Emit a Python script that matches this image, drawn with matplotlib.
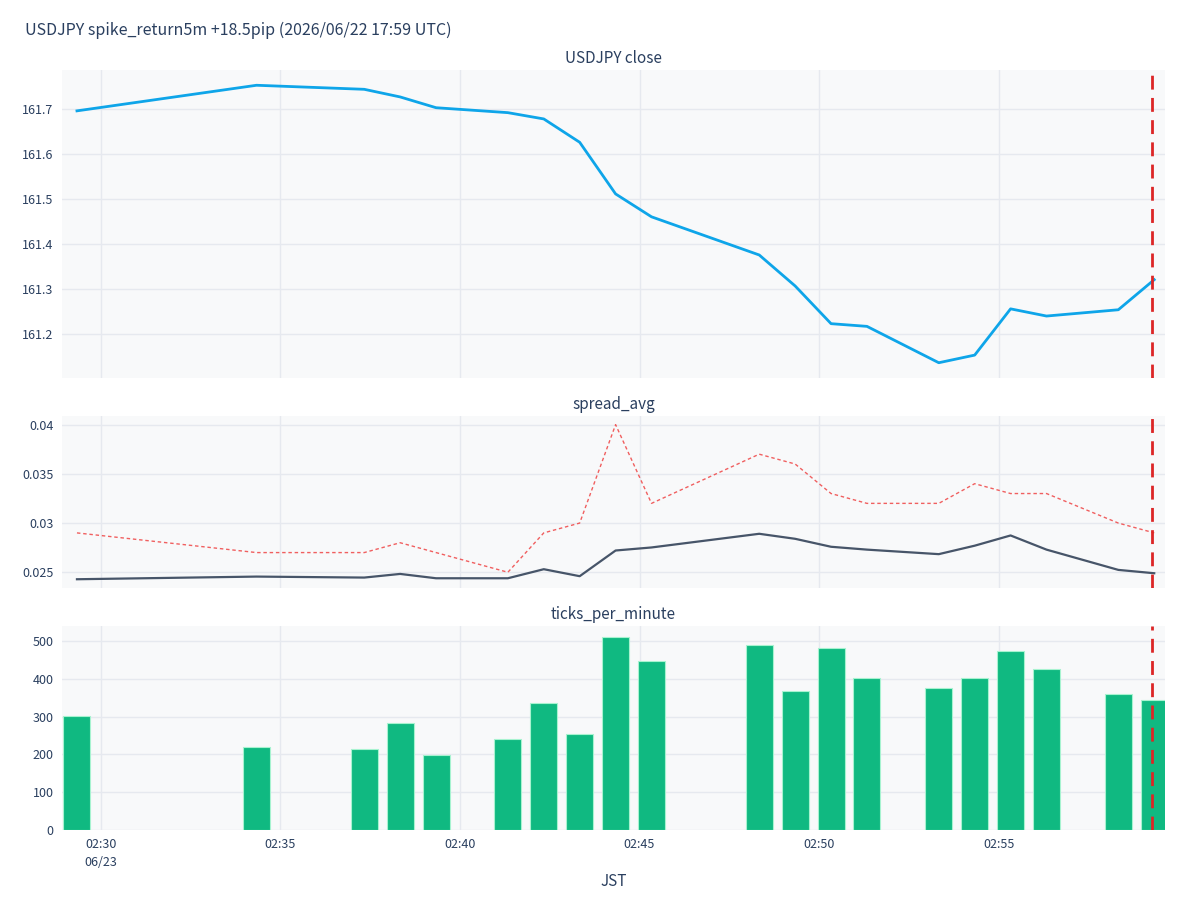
import matplotlib
matplotlib.use("Agg")
import matplotlib.pyplot as plt
import pandas as pd

plt.rcParams['font.family'] = ['Noto Sans CJK JP', 'DejaVu Sans']

# minutes (JST, 06/23) of each sample
times = ["02:29:20", "02:34:20", "02:37:20", "02:38:20", "02:39:20", "02:41:20",
         "02:42:20", "02:43:20", "02:44:20", "02:45:20", "02:48:20", "02:49:20",
         "02:50:20", "02:51:20", "02:53:20", "02:54:20", "02:55:20", "02:56:20",
         "02:58:20", "02:59:20"]
close = [161.696, 161.753, 161.744, 161.727, 161.703, 161.692, 161.678, 161.626,
         161.511, 161.460, 161.375, 161.306, 161.222, 161.216, 161.135, 161.152,
         161.255, 161.239, 161.253, 161.320]
spread_avg = [0.02429, 0.02456, 0.02446, 0.02483, 0.02439, 0.02439, 0.02531, 0.0246,
              0.02721, 0.02752, 0.02891, 0.0284, 0.02759, 0.0273, 0.02684, 0.0277,
              0.02874, 0.0273, 0.02524, 0.0249]
spread_max = [0.029, 0.027, 0.027, 0.028, 0.027, 0.025, 0.029, 0.030, 0.040, 0.032,
              0.037, 0.036, 0.033, 0.032, 0.032, 0.034, 0.033, 0.033, 0.030, 0.029]
ticks_pm = [301, 219, 214, 282, 198, 242, 336, 255, 512, 447, 491, 368, 483, 402,
            376, 402, 474, 426, 360, 345]
event_time = "02:59:17"

title = "USDJPY spike_return5m +18.5pip (2026/06/22 17:59 UTC)"

day = "2026-06-23 "
t = pd.to_datetime([day + s for s in times])
ev = pd.Timestamp(day + event_time)
bar_w = pd.Timedelta(seconds=45)

text_c = "#2a3f5f"
grid_c = "#e6e9ef"
bg_c = "#f8f9fa"

fig = plt.figure(figsize=(12, 9), dpi=100)
L, W = 62 / 1200, 1103 / 1200
ax1 = fig.add_axes([L, 1 - 378 / 900, W, 308 / 900])
ax2 = fig.add_axes([L, 1 - 588 / 900, W, 172 / 900], sharex=ax1)
ax3 = fig.add_axes([L, 1 - 830 / 900, W, 204 / 900], sharex=ax1)

ax1.plot(t, close, color="#0ea5e9", lw=2)
ax2.plot(t, spread_max, color="#ef4444", lw=1, ls=(0, (2.5, 2)), alpha=0.85)
ax2.plot(t, spread_avg, color="#475569", lw=1.6)
ax3.bar(t, ticks_pm, width=bar_w, color="#10b981", edgecolor="#a7f3d0", linewidth=0.8)

for ax, name in [(ax1, "USDJPY close"), (ax2, "spread_avg"), (ax3, "ticks_per_minute")]:
    ax.set_facecolor(bg_c)
    for s in ax.spines.values():
        s.set_visible(False)
    ax.grid(True, color=grid_c, lw=1)
    ax.set_axisbelow(True)
    ax.tick_params(length=0, labelsize=9, colors=text_c, pad=6)
    ax.axvline(ev, color="#dc2626", lw=2, ls=(0, (5, 3)), zorder=5)
    ax.set_title(name, fontsize=11, color=text_c, pad=5)

ax1.set_ylim(161.101, 161.787)
ax1.set_yticks([161.2, 161.3, 161.4, 161.5, 161.6, 161.7])
ax2.set_ylim(0.0234, 0.04088)
ax2.set_yticks([0.025, 0.03, 0.035, 0.04])
ax2.set_yticklabels(["0.025", "0.03", "0.035", "0.04"])
ax3.set_ylim(0, 540)
ax3.set_yticks([0, 100, 200, 300, 400, 500])

ax1.set_xlim(pd.Timestamp(day + "02:28:55"), pd.Timestamp(day + "02:59:38"))
xt = pd.to_datetime([day + "02:%02d:00" % m for m in (30, 35, 40, 45, 50, 55)])
ax3.set_xticks(xt)
ax3.set_xticklabels(["02:30\n06/23", "02:35", "02:40", "02:45", "02:50", "02:55"],
                    linespacing=1.5)
plt.setp(ax1.get_xticklabels(), visible=False)
plt.setp(ax2.get_xticklabels(), visible=False)

fig.text(L + W / 2, 1 - 882 / 900, "JST", fontsize=11, color=text_c,
         ha="center", va="center")
fig.text(25 / 1200, 1 - 30 / 900, title, fontsize=11.5, color=text_c, va="center")

fig.savefig("out.png", dpi=100)
